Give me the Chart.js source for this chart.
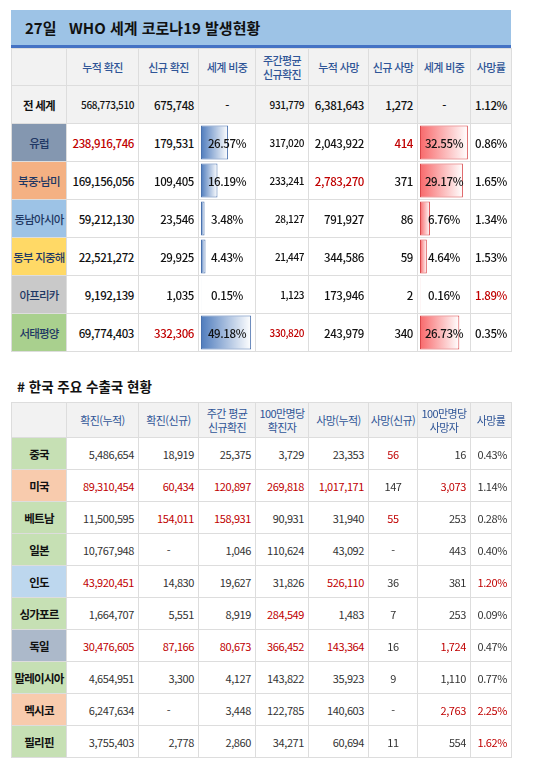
<!doctype html>
<html lang="ko">
<head>
<meta charset="utf-8" />
<title>WHO 세계 코로나19 발생현황</title>
<script src="https://cdn.jsdelivr.net/npm/chart.js"></script>
<style>
  body { margin: 0; background: #fff; font-family: "Noto Sans CJK KR", "Noto Sans", sans-serif; }
  .wrap { position: absolute; left: 11px; top: 10px; width: 500px; }
  .title { height: 35px; background: #9DC3E6; border-bottom: 3px solid #4472C4; font-weight: bold; font-size: 15px; line-height: 35px; padding-left: 14px; color: #111; }
  table { border-collapse: collapse; table-layout: fixed; width: 500px; }
  td { border: 1px solid #DDD; padding: 0 4px; font-size: 11.5px; letter-spacing: -0.4px; text-align: right; white-space: nowrap; overflow: hidden; position: relative; color: #111; }
  td.lab { text-align: center; font-size: 11.5px; letter-spacing: -0.8px; padding: 0; color: #1F3864; }
  tr.hd td { background: #F2F2F2; color: #2F5597; text-align: center; font-size: 11px; letter-spacing: -0.6px; line-height: 14px; padding: 0; }
  #t1 td { height: 37px; font-weight: 500; }
  #t1 tr.hd td { height: 36px; }
  td.c { text-align: center; }
  td.sm { font-size: 10px; }
  .red { color: #C00000 !important; }
  td.bar { padding: 0; }
  td.bar canvas { position: absolute; left: 0; top: 0; }
  td.bar span { position: relative; display: block; text-align: center; }
  .sub { position: absolute; left: 17px; top: 376px; font-weight: bold; font-size: 13.5px; color: #111; }
  #t2 { position: absolute; left: 11px; top: 402px; }
  #t2 td { height: 31px; color: #333; font-size: 11px; }
  #t2 td.lab { font-weight: bold; color: #111; font-size: 11.5px; }
  #t2 tr.hd td { height: 34px; color: #2F5597; font-size: 11px; }
</style>
</head>
<body>
<div class="wrap">
  <div class="title">27일&nbsp;&nbsp;&nbsp;WHO 세계 코로나19 발생현황</div>
  <table id="t1"></table>
</div>
<div class="sub"># 한국 주요 수출국 현황</div>
<table id="t2"></table>

<script>
  // WHO regions
  const regions = ['유럽', '북중·남미', '동남아시아', '동부 지중해', '아프리카', '서태평양'];
  const regionColors = ['#8497B0', '#F4B183', '#9DC3E6', '#FFD966', '#C9C9C9', '#A9D08E'];
  const cumCases = ['238,916,746', '169,156,056', '59,212,130', '22,521,272', '9,192,139', '69,774,403'];
  const newCases = ['179,531', '109,405', '23,546', '29,925', '1,035', '332,306'];
  const caseShare = [26.57, 16.19, 3.48, 4.43, 0.15, 49.18];
  const weeklyAvg = ['317,020', '233,241', '28,127', '21,447', '1,123', '330,820'];
  const cumDeaths = ['2,043,922', '2,783,270', '791,927', '344,586', '173,946', '243,979'];
  const newDeaths = ['414', '371', '86', '59', '2', '340'];
  const deathShare = [32.55, 29.17, 6.76, 4.64, 0.16, 26.73];
  const fatality = ['0.86%', '1.65%', '1.34%', '1.53%', '1.89%', '0.35%'];
  const world = ['568,773,510', '675,748', '-', '931,779', '6,381,643', '1,272', '-', '1.12%'];
  // red cells in table 1: [row, col]
  const red1 = [[0, 0], [0, 5], [1, 4], [5, 1], [5, 3], [4, 7]];

  // Korea's main export partners
  const countries = ['중국', '미국', '베트남', '일본', '인도', '싱가포르', '독일', '말레이시아', '멕시코', '필리핀'];
  const countryColors = ['#C6E0B4', '#F8CBAD', '#C6E0B4', '#C6E0B4', '#BDD7EE', '#C6E0B4', '#ACB9CA', '#C6E0B4', '#F8CBAD', '#C6E0B4'];
  const kCum = ['5,486,654', '89,310,454', '11,500,595', '10,767,948', '43,920,451', '1,664,707', '30,476,605', '4,654,951', '6,247,634', '3,755,403'];
  const kNew = ['18,919', '60,434', '154,011', '-', '14,830', '5,551', '87,166', '3,300', '-', '2,778'];
  const kWeekly = ['25,375', '120,897', '158,931', '1,046', '19,627', '8,919', '80,673', '4,127', '3,448', '2,860'];
  const kPerM = ['3,729', '269,818', '90,931', '110,624', '31,826', '284,549', '366,452', '143,822', '122,785', '34,271'];
  const kDeaths = ['23,353', '1,017,171', '31,940', '43,092', '526,110', '1,483', '143,364', '35,923', '140,603', '60,694'];
  const kNewDeaths = ['56', '147', '55', '-', '36', '7', '16', '9', '-', '11'];
  const kDeathsPerM = ['16', '3,073', '253', '443', '381', '253', '1,724', '1,110', '2,763', '554'];
  const kFatality = ['0.43%', '1.14%', '0.28%', '0.40%', '1.20%', '0.09%', '0.47%', '0.77%', '2.25%', '1.62%'];
  const red2 = [[0, 5], [1, 0], [1, 1], [1, 2], [1, 3], [1, 4], [1, 6], [2, 1], [2, 2], [2, 5],
    [4, 0], [4, 4], [4, 7], [5, 3], [6, 0], [6, 1], [6, 2], [6, 3], [6, 4], [6, 6], [8, 6], [8, 7], [9, 7]];

  const widths = [55, 72, 60, 57, 53, 60, 49, 53, 41];
  const isRed = (list, r, c) => list.some(p => p[0] === r && p[1] === c);

  function colgroup(t) {
    t.innerHTML = '<colgroup>' + widths.map(w => '<col style="width:' + w + 'px">').join('') + '</colgroup>';
  }

  // table 1
  const t1 = document.getElementById('t1');
  colgroup(t1);
  let h = '<tr class="hd"><td></td><td>누적 확진</td><td>신규 확진</td><td>세계 비중</td><td>주간평균<br>신규확진</td><td>누적 사망</td><td>신규 사망</td><td>세계 비중</td><td>사망률</td></tr>';
  h += '<tr style="background:#F2F2F2"><td class="lab" style="color:#111;font-weight:bold">전 세계</td>' +
    world.map((v, i) => '<td class="' + (i === 2 || i === 6 ? 'c' : '') + (i === 0 || i === 3 ? ' sm' : '') + '">' + v + '</td>').join('') + '</tr>';
  regions.forEach((r, i) => {
    const vals = [cumCases[i], newCases[i], null, weeklyAvg[i], cumDeaths[i], newDeaths[i], null, fatality[i]];
    h += '<tr><td class="lab" style="background:' + regionColors[i] + '">' + r + '</td>';
    vals.forEach((v, c) => {
      const cls = isRed(red1, i, c) ? 'red' : '';
      if (c === 2) h += '<td class="bar"><canvas id="cs' + i + '"></canvas><span>' + caseShare[i].toFixed(2) + '%</span></td>';
      else if (c === 6) h += '<td class="bar"><canvas id="ds' + i + '"></canvas><span>' + deathShare[i].toFixed(2) + '%</span></td>';
      else h += '<td class="' + cls + (c === 3 ? ' sm' : '') + '">' + v + '</td>';
    });
    h += '</tr>';
  });
  t1.innerHTML += h;

  // table 2
  const t2 = document.getElementById('t2');
  colgroup(t2);
  let h2 = '<tr class="hd"><td></td><td>확진(누적)</td><td>확진(신규)</td><td>주간 평균<br>신규확진</td><td>100만명당<br>확진자</td><td>사망(누적)</td><td>사망(신규)</td><td>100만명당<br>사망자</td><td>사망률</td></tr>';
  countries.forEach((k, i) => {
    const vals = [kCum[i], kNew[i], kWeekly[i], kPerM[i], kDeaths[i], kNewDeaths[i], kDeathsPerM[i], kFatality[i]];
    h2 += '<tr><td class="lab" style="background:' + countryColors[i] + '">' + k + '</td>';
    vals.forEach((v, c) => {
      const cls = (isRed(red2, i, c) ? 'red' : '') + (v === '-' || c === 5 ? ' c' : '');
      h2 += '<td class="' + cls + '">' + v + '</td>';
    });
    h2 += '</tr>';
  });
  t2.innerHTML += h2;

  // data bars in the share columns
  function dataBar(id, value, max, dark, light, border) {
    const cv = document.getElementById(id);
    const cell = cv.parentElement;
    cv.width = cell.clientWidth;
    cv.height = cell.clientHeight;
    new Chart(cv, {
      type: 'bar',
      data: {
        labels: [''],
        datasets: [{
          data: [value],
          backgroundColor: ctx => {
            const a = ctx.chart.chartArea;
            if (!a) return dark;
            const px = ctx.chart.scales.x.getPixelForValue(value);
            const g = ctx.chart.ctx.createLinearGradient(a.left, 0, Math.max(px, a.left + 1), 0);
            g.addColorStop(0, dark);
            g.addColorStop(1, light);
            return g;
          },
          borderColor: border,
          borderWidth: 1,
          borderSkipped: false,
          barPercentage: 1,
          categoryPercentage: 0.92
        }]
      },
      options: {
        indexAxis: 'y',
        responsive: false,
        animation: false,
        layout: { padding: { left: 2, right: 0, top: 0, bottom: 0 } },
        plugins: { legend: { display: false }, tooltip: { enabled: false } },
        scales: {
          x: { display: false, min: 0, max: max },
          y: { display: false }
        }
      }
    });
  }
  caseShare.forEach((v, i) => dataBar('cs' + i, v, 53, '#4F7CBD', '#FFFFFF', '#4A72AE'));
  deathShare.forEach((v, i) => dataBar('ds' + i, v, 34, '#F8696B', '#FFFFFF', '#D9474A'));
</script>
</body>
</html>
